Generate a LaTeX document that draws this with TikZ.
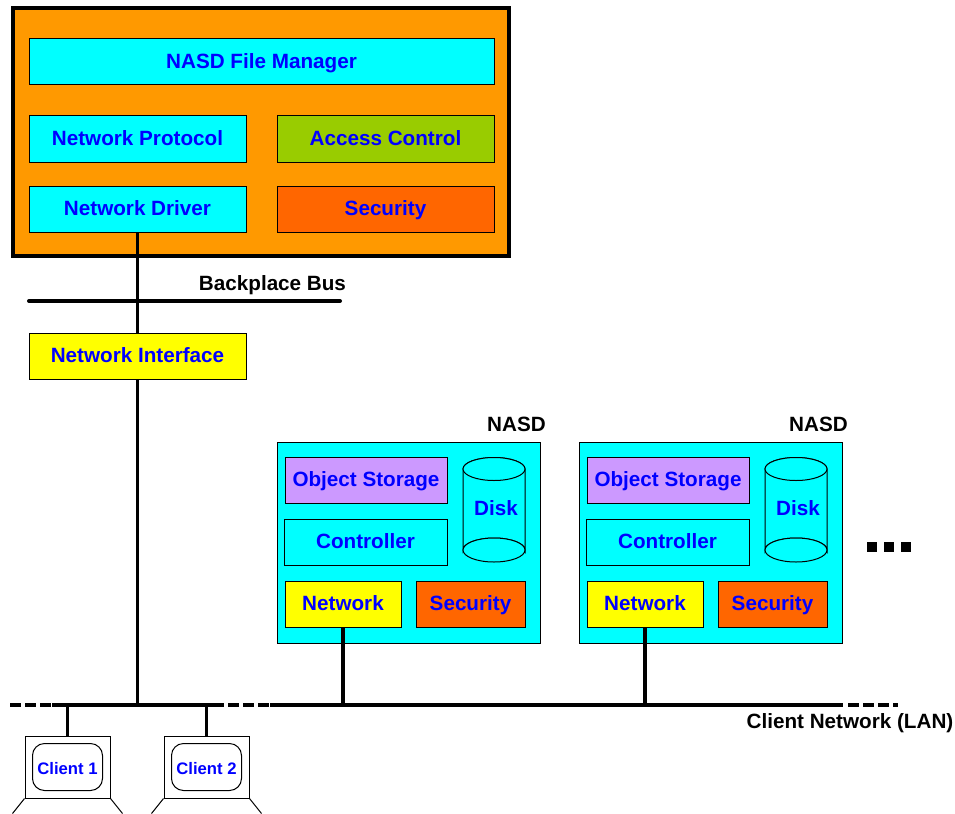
\documentclass[tikz,border=0pt]{standalone}
\usepackage{fontspec}
\setmainfont{Liberation Sans}
\usepackage{xcolor}
\usepackage{tikz}
\usetikzlibrary{positioning}
\definecolor{mgrorange}{HTML}{FF9900}
\definecolor{ctrlgreen}{HTML}{99CC00}
\definecolor{secorange}{HTML}{FF6600}
\definecolor{objpurple}{HTML}{CC99FF}
\definecolor{boxcyan}{HTML}{00FFFF}
\definecolor{boxyellow}{HTML}{FFFF00}
\definecolor{textblue}{HTML}{0000FF}
\tikzset{
  labelfont/.style={font=\fontsize{15.5}{18}\selectfont\bfseries, text height=11pt, text depth=0.6pt},
  box/.style={draw, rectangle, line width=0.75pt, minimum height=34.5pt, inner sep=0pt, align=center, labelfont, text=textblue},
  widebox/.style={box, minimum width=162.75pt},
  objbox/.style={box, minimum width=121.5pt},
  netbox/.style={box, fill=boxyellow, minimum width=87pt},
  secbox/.style={box, fill=secorange, minimum width=81.75pt},
  nasdbox/.style={draw, rectangle, line width=0.75pt, fill=boxcyan, inner sep=0pt, minimum width=197.25pt, minimum height=150.75pt},
  caption/.style={labelfont, inner sep=0pt},
  disktext/.style={labelfont, text=textblue, inner sep=0pt},
  wire/.style={line width=2.5pt},
  busline/.style={line width=3pt, line cap=round},
  lanline/.style={line width=3pt},
  dashbus/.style={line width=3pt, dash pattern=on 8.25pt off 3pt},
  monitor/.style={draw, rectangle, line width=0.75pt, fill=white, inner sep=0pt, minimum width=63.75pt, minimum height=46.5pt},
  screen/.style={draw, rectangle, rounded corners=9pt, line width=0.75pt, inner sep=0pt, minimum width=52.5pt, minimum height=35.25pt, text=textblue, font=\fontsize{12.5}{15}\selectfont\bfseries, text height=11pt, text depth=0pt},
  dot/.style={fill=black, rectangle, inner sep=0pt, minimum size=7.5pt},
  disk/.style={draw, line width=0.75pt, fill=boxcyan}
}

\begin{document}
\begin{tikzpicture}[x=0.75pt, y=-0.75pt]
\useasboundingbox (0,0) rectangle (955,813);

% file manager
\node[draw, rectangle, line width=2.6pt, fill=mgrorange, minimum width=372pt, minimum height=186pt, inner sep=0pt] (manager) at (261,132) {};
\node[box, fill=boxcyan, minimum width=348.75pt] (filemgr) at (261.5,62) {NASD File Manager};
\node[widebox, fill=boxcyan] (protocol) at (137.5,139) {Network Protocol};
\node[widebox, fill=ctrlgreen] (access) at (385.5,139) {Access Control};
\node[widebox, fill=boxcyan] (driver) at (137.5,209) {Network Driver};
\node[widebox, fill=secorange] (security) at (385.5,209) {Security};

% backplane
\node[widebox, fill=boxyellow] (iface) at (137.5,356) {Network Interface};
\node[caption] (backlabel) at (272.5,284) {Backplace Bus};
\coordinate (busl) at (29,301);
\coordinate (busr) at (340,301);
\draw[busline] (busl) -- (busr);
\draw[wire] (driver.south) -- (iface.north);

% first nasd
\node[nasdbox] (nasda) at (408.5,542.5) {};
\node[caption] (nasdalabel) at (516.5,425) {NASD};
\node[objbox, fill=objpurple] (obja) at (366,480) {Object Storage};
\node[objbox, fill=boxcyan, minimum width=122.25pt] (ctrla) at (365.5,542) {Controller};
\node[netbox] (neta) at (343,604) {Network};
\node[secbox] (seca) at (470.5,604) {Security};
\draw[disk] (463,469) -- (463,550) arc (180:0:31 and -12) -- (525,469) arc (0:180:31 and -11.5) -- cycle;
\draw[disk] (494,469) ellipse (31 and 11.5);
\draw[disk] (494,550) ellipse (31 and 12);
\node[disktext] (diska) at (496,509) {Disk};

% second nasd
\node[nasdbox] (nasdb) at (710.5,542.5) {};
\node[caption] (nasdblabel) at (818.5,425) {NASD};
\node[objbox, fill=objpurple] (objb) at (668,480) {Object Storage};
\node[objbox, fill=boxcyan, minimum width=122.25pt] (ctrlb) at (667.5,542) {Controller};
\node[netbox] (netb) at (645,604) {Network};
\node[secbox] (secb) at (772.5,604) {Security};
\draw[disk] (765,469) -- (765,550) arc (180:0:31 and -12) -- (827,469) arc (0:180:31 and -11.5) -- cycle;
\draw[disk] (796,469) ellipse (31 and 11.5);
\draw[disk] (796,550) ellipse (31 and 12);
\node[disktext] (diskb) at (798,509) {Disk};

\node[dot] (dota) at (872,547) {};
\node[dot] (dotb) at (889,547) {};
\node[dot] (dotc) at (906,547) {};

% client network
\coordinate (lana) at (10,705);
\coordinate (lanb) at (52,705);
\coordinate (lanc) at (224,705);
\coordinate (land) at (228,705);
\coordinate (lane) at (270,705);
\coordinate (lanf) at (843,705);
\coordinate (lang) at (848,705);
\coordinate (lanh) at (898,705);
\draw[dashbus] (lana) -- (lanb);
\draw[lanline] (lanb) -- (lanc);
\draw[dashbus] (land) -- (lane);
\draw[lanline] (lane) -- (lanf);
\draw[dashbus] (lang) -- (lanh);
\node[caption] (lanlabel) at (850,722) {Client Network (LAN)};

\draw[wire] (iface.south) -- (iface.south |- lana);
\draw[wire] (neta.south) -- (neta.south |- lana);
\draw[wire] (netb.south) -- (netb.south |- lana);

% clients
\node[monitor] (clienta) at (67.5,767) {};
\node[screen] (screena) at (67.5,767) {Client 1};
\draw[line width=0.75pt] (clienta.south west) -- ++(-12,15);
\draw[line width=0.75pt] (clienta.south east) -- ++(12,15);
\node[monitor] (clientb) at (206.5,767) {};
\node[screen] (screenb) at (206.5,767) {Client 2};
\draw[line width=0.75pt] (clientb.south west) -- ++(-12,15);
\draw[line width=0.75pt] (clientb.south east) -- ++(12,15);
\draw[wire] (clienta.north) -- (clienta.north |- lana);
\draw[wire] (clientb.north) -- (clientb.north |- lana);

\end{tikzpicture}
\end{document}
